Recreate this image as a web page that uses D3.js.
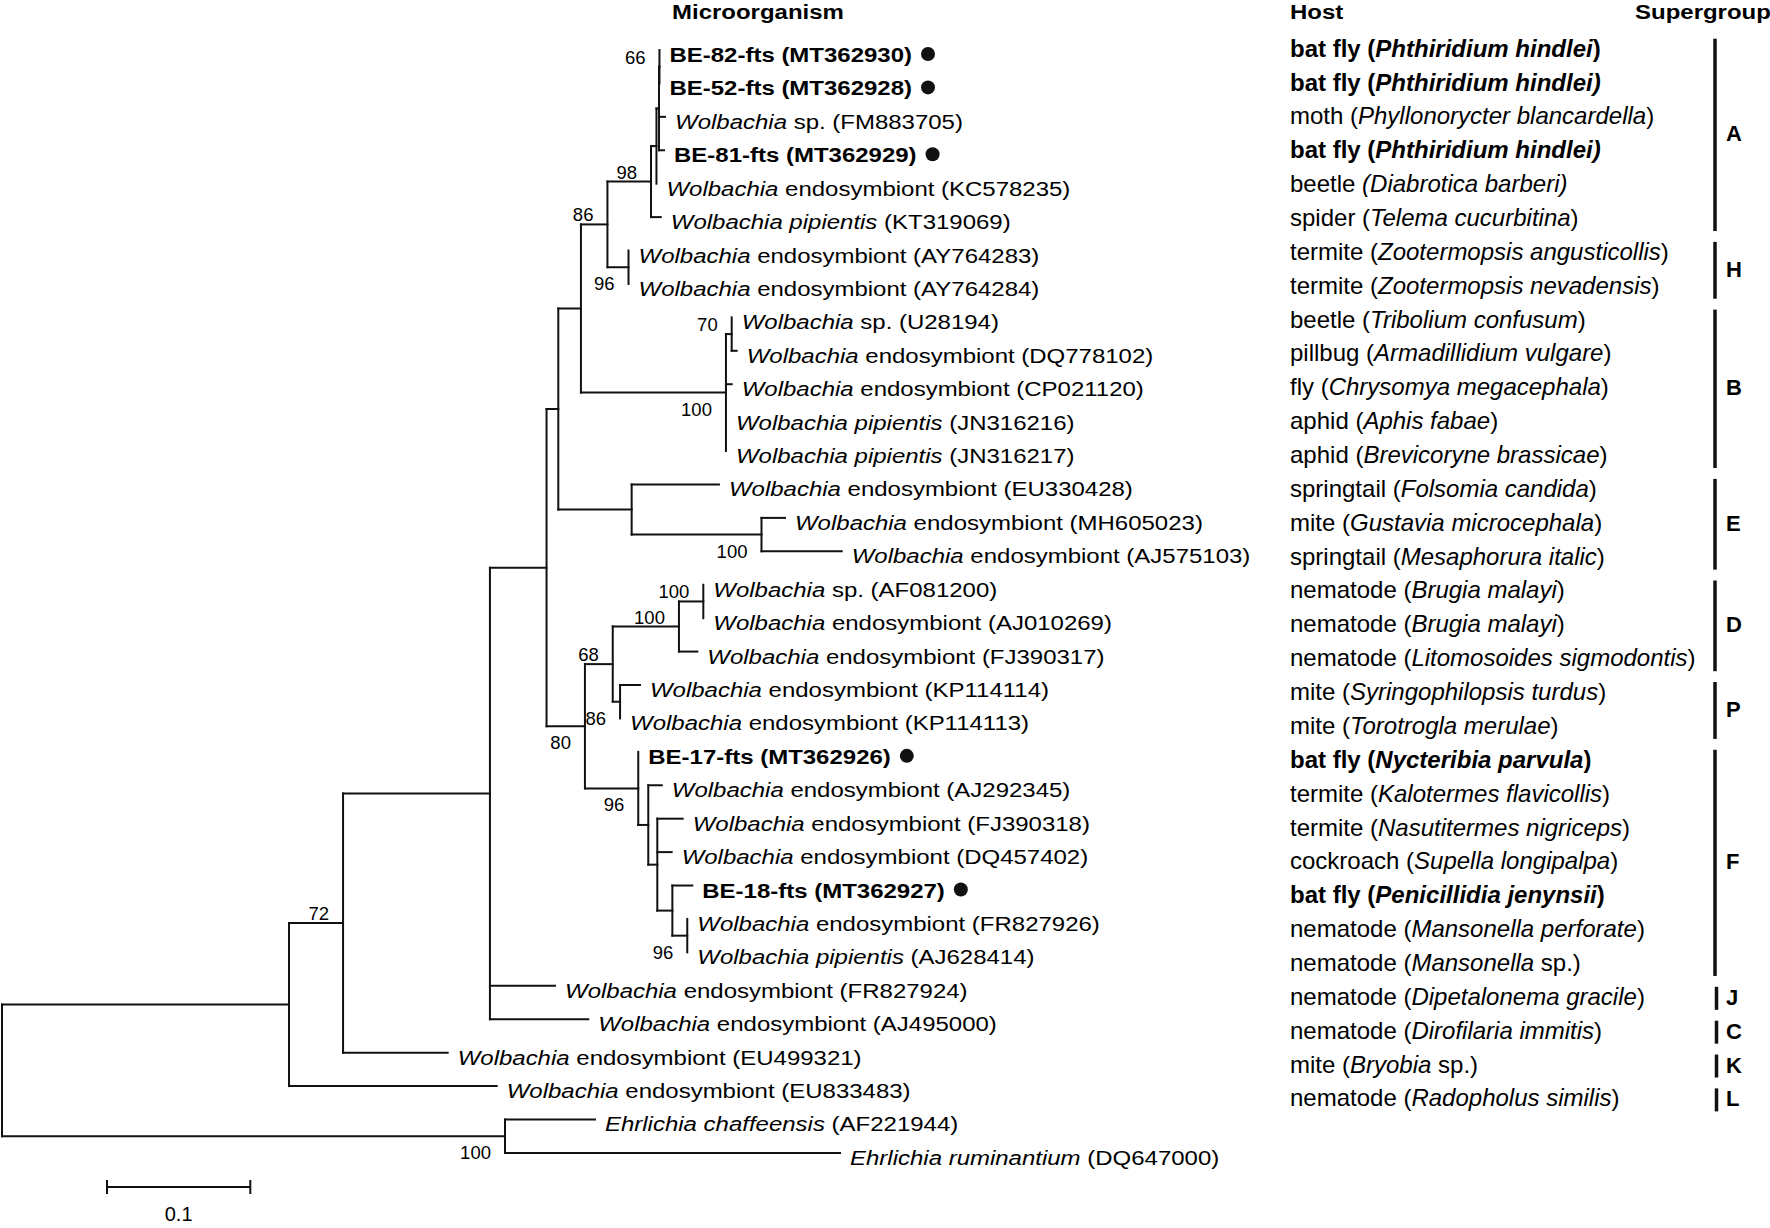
<!DOCTYPE html>
<html><head><meta charset="utf-8">
<script src="https://cdn.jsdelivr.net/npm/d3@7"></script>
<style>
body{margin:0;background:#fff}
svg{display:block}
text{font-family:"Liberation Sans",Arial,Helvetica,sans-serif;fill:#000}
</style>
</head><body>
<svg id="chart" width="1770" height="1228"></svg>
<script>
// ---------- Tree topology (preorder) and branch lengths ----------
const nodeIds = ["R","N1","N2","N3","N4","N5","N6","NAH","NA","Z","Y","X","MT362930","MT362928","FM883705","MT362929","KC578235","KT319069","NH","AY764283","AY764284","NB","N70","U28194","DQ778102","CP021120","JN316216","JN316217","NE","EU330428","NMA","MH605023","AJ575103","NDPF","NDP","ND","NAA","AF081200","AJ010269","FJ390317","NP","KP114114","KP114113","NF","MT362926","F2","AJ292345","F3","FJ390318","DQ457402","F5","MT362927","F6","FR827926","AJ628414","FR827924","AJ495000","EU499321","EU833483","E0","AF221944","DQ647000"];
const parentIds = [null,"R","N1","N2","N3","N4","N5","N6","NAH","NA","Z","Y","X","X","Y","Y","Z","NA","NAH","NH","NH","N6","NB","N70","N70","NB","NB","NB","N5","NE","NE","NMA","NMA","N4","NDPF","NDP","ND","NAA","NAA","ND","NDP","NP","NP","NDPF","NF","NF","F2","F2","F3","F3","F3","F5","F5","F6","F6","N3","N3","N2","N1","R","E0","E0"];
const branchLengths = [0,0.2003,0.0377,0.1025,0.0395,0.0082,0.0158,0.0185,0.0304,0.0038,0.0018,0.0003,0,0,0.0042,0.0035,0,0.0068,0.0147,0,0,0.1012,0.0040,0,0.0035,0.0040,0,0,0.0512,0.0609,0.0906,0.0164,0.0560,0.0268,0.0194,0.0462,0.0170,0,0,0.0128,0.0051,0.0139,0,0.0372,0,0.0070,0.0094,0.0063,0.0177,0.0100,0.0105,0.0139,0.0104,0,0,0.0454,0.0686,0.0730,0.1449,0.3510,0.0628,0.2338];

// ---------- Bootstrap support ----------
const bootNodes  = ["X","NA","NAH","NH","N70","NB","NMA","N2","NAA","ND","NDP","NP","NDPF","NF","F6","E0"];
const bootValues = [66,98,86,96,70,100,100,72,100,100,68,86,80,96,96,100];
const bootBelow  = [false,false,false,true,false,true,true,false,false,false,false,true,true,true,true,true];

// ---------- Leaf labels (top to bottom) ----------
const leafIds = ["MT362930","MT362928","FM883705","MT362929","KC578235","KT319069","AY764283","AY764284","U28194","DQ778102","CP021120","JN316216","JN316217","EU330428","MH605023","AJ575103","AF081200","AJ010269","FJ390317","KP114114","KP114113","MT362926","AJ292345","FJ390318","DQ457402","MT362927","FR827926","AJ628414","FR827924","AJ495000","EU499321","EU833483","AF221944","DQ647000"];
const leafItalic = ["","","Wolbachia","","Wolbachia","Wolbachia pipientis","Wolbachia","Wolbachia","Wolbachia","Wolbachia","Wolbachia","Wolbachia pipientis","Wolbachia pipientis","Wolbachia","Wolbachia","Wolbachia","Wolbachia","Wolbachia","Wolbachia","Wolbachia","Wolbachia","","Wolbachia","Wolbachia","Wolbachia","","Wolbachia","Wolbachia pipientis","Wolbachia","Wolbachia","Wolbachia","Wolbachia","Ehrlichia chaffeensis","Ehrlichia ruminantium"];
const leafPlain = ["BE-82-fts (MT362930)","BE-52-fts (MT362928)"," sp. (FM883705)","BE-81-fts (MT362929)"," endosymbiont (KC578235)"," (KT319069)"," endosymbiont (AY764283)"," endosymbiont (AY764284)"," sp. (U28194)"," endosymbiont (DQ778102)"," endosymbiont (CP021120)"," (JN316216)"," (JN316217)"," endosymbiont (EU330428)"," endosymbiont (MH605023)"," endosymbiont (AJ575103)"," sp. (AF081200)"," endosymbiont (AJ010269)"," endosymbiont (FJ390317)"," endosymbiont (KP114114)"," endosymbiont (KP114113)","BE-17-fts (MT362926)"," endosymbiont (AJ292345)"," endosymbiont (FJ390318)"," endosymbiont (DQ457402)","BE-18-fts (MT362927)"," endosymbiont (FR827926)"," (AJ628414)"," endosymbiont (FR827924)"," endosymbiont (AJ495000)"," endosymbiont (EU499321)"," endosymbiont (EU833483)"," (AF221944)"," (DQ647000)"];
const leafMarked = leafIds.map(id => id.startsWith("MT3629"));

// ---------- Hosts ----------
const hostPrefix = ["bat fly (","bat fly (","moth (","bat fly (","beetle ","spider (","termite (","termite (","beetle (","pillbug (","fly (","aphid (","aphid (","springtail (","mite (","springtail (","nematode (","nematode (","nematode (","mite (","mite (","bat fly (","termite (","termite (","cockroach (","bat fly (","nematode (","nematode (","nematode (","nematode (","mite (","nematode ("];
const hostItalic = ["Phthiridium hindlei","Phthiridium hindlei)","Phyllonorycter blancardella","Phthiridium hindlei)","(Diabrotica barberi)","Telema cucurbitina","Zootermopsis angusticollis","Zootermopsis nevadensis","Tribolium confusum","Armadillidium vulgare","Chrysomya megacephala","Aphis fabae","Brevicoryne brassicae","Folsomia candida","Gustavia microcephala","Mesaphorura italic","Brugia malayi","Brugia malayi","Litomosoides sigmodontis","Syringophilopsis turdus","Torotrogla merulae","Nycteribia parvula","Kalotermes flavicollis","Nasutitermes nigriceps","Supella longipalpa","Penicillidia jenynsii","Mansonella perforate","Mansonella","Dipetalonema gracile","Dirofilaria immitis","Bryobia","Radopholus similis"];
const hostSuffix = [")","",")","","",")",")",")",")",")",")",")",")",")",")",")",")",")",")",")",")",")",")",")",")",")",")"," sp.)",")",")"," sp.)",")"];
const hostBold = [true,true,false,true,false,false,false,false,false,false,false,false,false,false,false,false,false,false,false,false,false,true,false,false,false,true,false,false,false,false,false,false];

// ---------- Supergroups ----------
const groupNames = ["A","H","B","E","D","P","F","J","C","K","L"];
const groupFirst = [0,6,8,13,16,19,21,28,29,30,31];
const groupLast  = [5,7,12,15,18,20,27,28,29,30,31];

const headers = ["Microorganism","Host","Supergroup"];
const scaleBarValue = 0.1;

// ---------- Layout ----------
const svg = d3.select("#chart");
const x = d3.scaleLinear().domain([0, 0.1]).range([2, 145.3]);
const yTree = d3.scaleLinear().domain([0, leafIds.length - 1]).range([50, 1152.9]);
const yHost = d3.scaleLinear().domain([0, hostPrefix.length - 1]).range([56.7, 1106.4]);

const table = nodeIds.map((id, i) => ({id, parent: parentIds[i], bl: branchLengths[i]}));
const root = d3.stratify().id(d => d.id).parentId(d => d.parent)(table);
root.eachBefore(n => { n.dist = n.parent ? n.parent.dist + n.data.bl : 0; n.px = x(n.dist); });
root.leaves().forEach((l, i) => { l.row = i; l.py = yTree(i); });
root.eachAfter(n => {
  if (n.children) n.py = (n.children[0].py + n.children[n.children.length - 1].py) / 2;
});

const ink = "#111";
const g = svg.append("g").attr("fill", "none").attr("stroke", ink).attr("stroke-width", 2).attr("stroke-linecap", "square");
// horizontal branches
g.selectAll("path.h").data(root.descendants().filter(n => n.parent && n.px - n.parent.px > 0.4))
  .join("path").attr("class", "h")
  .attr("d", n => `M${n.parent.px},${n.py}H${n.px}`);
// vertical connectors
g.selectAll("path.v").data(root.descendants().filter(n => n.children))
  .join("path").attr("class", "v")
  .attr("d", n => `M${n.px},${n.children[0].py}V${n.children[n.children.length - 1].py}`);

// leaf labels
const leafIndex = new Map(leafIds.map((id, i) => [id, i]));
const labels = svg.append("g");
root.leaves().forEach(l => {
  const i = leafIndex.get(l.id);
  const t = labels.append("text")
    .attr("transform", `translate(${l.px + 10},${l.py + 12}) scale(1,0.875)`)
    .attr("font-size", 24);
  if (leafMarked[i]) {
    t.attr("font-weight", "bold").text(leafPlain[i]);
  } else {
    t.append("tspan").attr("font-style", "italic").text(leafItalic[i]);
    t.append("tspan").text(leafPlain[i]);
  }
  if (leafMarked[i]) {
    const w = t.node().getComputedTextLength();
    labels.append("circle").attr("cx", l.px + 10 + w + 16).attr("cy", l.py + 4).attr("r", 7).attr("fill", ink);
  }
});

// bootstrap values
const boots = svg.append("g").attr("font-size", 18.5).attr("text-anchor", "end");
bootNodes.forEach((id, i) => {
  const n = root.find(d => d.id === id);
  boots.append("text").attr("x", n.px - 14).attr("y", bootBelow[i] ? n.py + 23 : n.py - 3).text(bootValues[i]);
});

// headers
const hx = [672, 1290, 1635];
headers.forEach((h, i) => {
  svg.append("text").attr("transform", `translate(${hx[i]},18.5) scale(1,0.875)`)
    .attr("font-size", 24).attr("font-weight", "bold").text(h);
});

// hosts
const hosts = svg.append("g").attr("font-size", 24);
hostPrefix.forEach((p, i) => {
  const t = hosts.append("text").attr("x", 1290).attr("y", yHost(i)).attr("font-weight", hostBold[i] ? "bold" : null);
  t.append("tspan").text(p);
  t.append("tspan").attr("font-style", "italic").text(hostItalic[i]);
  t.append("tspan").text(hostSuffix[i]);
});

// supergroup bars
const sg = svg.append("g");
groupNames.forEach((name, i) => {
  const bx = groupFirst[i] === groupLast[i] ? 1716.5 : 1715;
  sg.append("line").attr("x1", bx).attr("x2", bx)
    .attr("y1", yHost(groupFirst[i]) - 18).attr("y2", yHost(groupLast[i]) + 5)
    .attr("stroke", ink).attr("stroke-width", 3.5);
  sg.append("text").attr("x", 1726).attr("y", (yHost(groupFirst[i]) + yHost(groupLast[i])) / 2)
    .attr("font-size", 22).attr("font-weight", "bold").text(name);
});

// scale bar
const sbx = 107, sby = 1187, sbw = x(scaleBarValue) - x(0);
const sb = svg.append("g").attr("stroke", ink).attr("stroke-width", 2);
sb.append("line").attr("x1", sbx).attr("x2", sbx + sbw).attr("y1", sby).attr("y2", sby);
sb.append("line").attr("x1", sbx).attr("x2", sbx).attr("y1", sby - 7).attr("y2", sby + 7);
sb.append("line").attr("x1", sbx + sbw).attr("x2", sbx + sbw).attr("y1", sby - 7).attr("y2", sby + 7);
svg.append("text").attr("x", sbx + sbw / 2).attr("y", 1221).attr("text-anchor", "middle").attr("font-size", 20).text(String(scaleBarValue));
</script>
</body></html>
